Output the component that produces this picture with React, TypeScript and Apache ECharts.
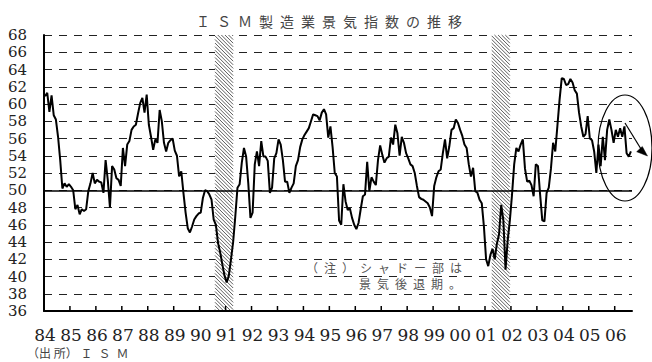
import React, { useEffect, useRef } from 'react';
import * as echarts from 'echarts';

const startYear = 1984;

// ISM manufacturing index, monthly, Jan 1984 - Aug 2006
const ismValues: number[] = [
  // 1984
  60.9, 61.3, 59.1, 61.0, 58.7, 58.2, 56.2, 53.5, 50.2, 50.8, 50.4, 50.7,
  // 1985
  50.4, 50.0, 47.8, 48.3, 47.2, 47.8, 47.6, 47.8, 49.9, 50.8, 52.0, 50.8,
  // 1986
  51.2, 51.0, 50.9, 49.7, 53.5, 51.2, 48.0, 52.8, 52.4, 51.4, 51.2, 50.5,
  // 1987
  54.9, 52.8, 55.3, 55.7, 57.0, 57.4, 57.6, 58.9, 60.1, 60.7, 59.0, 61.1,
  // 1988
  57.6, 56.2, 54.7, 55.9, 55.5, 59.3, 58.0, 55.5, 54.5, 55.5, 55.8, 56.0,
  // 1989
  54.6, 54.0, 51.6, 52.2, 49.7, 47.4, 45.6, 45.1, 45.8, 46.6, 47.0, 47.3,
  // 1990
  47.4, 49.1, 50.0, 49.9, 49.5, 48.9, 46.6, 46.0, 43.9, 42.8, 41.4, 40.1,
  // 1991
  39.3, 40.1, 42.0, 44.0, 47.0, 50.3, 50.7, 53.2, 54.9, 53.9, 50.8, 46.8,
  // 1992
  47.4, 53.0, 54.5, 52.8, 55.7, 53.9, 53.9, 53.4, 49.7, 50.3, 53.7, 54.3,
  // 1993
  55.9, 55.3, 53.5, 51.0, 51.0, 49.7, 50.3, 50.8, 52.8, 53.5, 55.0, 55.9,
  // 1994
  56.4, 56.8, 57.2, 58.0, 58.8, 58.7, 58.6, 58.1, 59.0, 59.4, 58.8, 56.1,
  // 1995
  57.4, 55.0, 52.0, 51.6, 46.5, 46.0, 50.7, 48.7, 47.7, 47.9, 46.8, 46.0,
  // 1996
  45.5, 46.2, 47.8, 49.3, 49.5, 53.3, 49.9, 51.5, 51.0, 50.6, 53.5, 55.2,
  // 1997
  54.1, 53.2, 53.7, 53.9, 56.1, 55.3, 57.6, 56.6, 54.0, 56.2, 55.5, 54.3,
  // 1998
  53.7, 53.0, 52.8, 52.0, 50.5, 49.2, 49.0, 48.9, 48.7, 48.5, 48.0, 47.0,
  // 1999
  50.5, 51.5, 52.2, 52.4, 54.3, 55.9, 53.7, 55.1, 57.0, 57.2, 58.2, 57.8,
  // 2000
  57.0, 56.3, 55.3, 54.9, 53.0, 51.6, 52.6, 49.9, 49.7, 48.9, 48.5, 45.8,
  // 2001
  42.0, 41.2, 42.5, 43.2, 42.0, 43.8, 44.9, 48.3, 46.5, 40.8, 44.2, 46.5,
  // 2002
  49.5, 53.0, 54.9, 54.5, 55.3, 55.9, 52.5, 51.0, 51.1, 50.6, 49.3, 53.0,
  // 2003
  52.8, 49.5, 46.5, 46.4, 49.7, 50.3, 52.5, 55.5, 54.5, 57.5, 60.5, 63.0,
  // 2004
  62.9, 62.2, 62.3, 62.9, 62.5, 61.6, 61.2, 59.0, 57.4, 56.2, 56.5, 58.6,
  // 2005
  56.0, 55.8, 54.5, 52.0, 55.3, 52.8, 56.2, 53.5, 57.0, 58.2, 57.0, 55.5,
  // 2006
  57.0, 56.2, 57.2, 56.2, 57.4, 54.3, 53.9, 54.5,
];

const yearLabels = ['84', '85', '86', '87', '88', '89', '90', '91', '92', '93', '94', '95',
  '96', '97', '98', '99', '00', '01', '02', '03', '04', '05', '06'];

// recession shading, in month positions from Jan 1984
const recessionStart = [79.1, 207.1];
const recessionEnd = [87.5, 215.5];

const yMin = 36;
const yMax = 68;
const baseLine = 50;

const categories: string[] = ismValues.map((_, i) =>
  `${startYear + Math.floor(i / 12)}-${String((i % 12) + 1).padStart(2, '0')}`);

const JP = '"Noto Sans CJK JP", "Noto Sans", sans-serif';
const SERIF = '"DejaVu Serif", "Liberation Serif", serif';

export default function App() {
  const ref = useRef<HTMLDivElement>(null);
  useEffect(() => {
    if (!ref.current) return;
    const chart = echarts.init(ref.current, undefined, { renderer: 'svg' });
    const bandData = recessionStart.map((s, i) => [0, yMax, s, recessionEnd[i]]);
    const tickData = yearLabels.map((_, i) => [i * 12, yMin]);
    const option: any = {
      animation: false,
      backgroundColor: '#ffffff',
      grid: { left: 44, right: 20, top: 35, bottom: 51 },
      xAxis: {
        type: 'category',
        data: categories,
        boundaryGap: true,
        z: 5,
        axisLine: { show: true, lineStyle: { color: '#000', width: 2 } },
        axisTick: { show: false },
        axisLabel: {
          interval: (i: number) => i % 12 === 0,
          formatter: (_v: string, i: number) => (i % 12 === 0 ? yearLabels[i / 12] : ''),
          fontFamily: SERIF,
          fontSize: 17,
          color: '#222',
          margin: 15,
        },
        splitLine: { show: false },
      },
      yAxis: {
        type: 'value',
        min: yMin,
        max: yMax,
        interval: 2,
        z: 0,
        axisLine: { show: true, lineStyle: { color: '#000', width: 2 } },
        axisTick: { show: false },
        axisLabel: { fontFamily: SERIF, fontSize: 15, color: '#222', margin: 17 },
        splitLine: { show: true, lineStyle: { color: '#222', width: 1, type: [8, 7] } },
      },
      series: [
        {
          name: 'base',
          type: 'line',
          data: [],
          z: 1,
          silent: true,
          markLine: {
            silent: true,
            symbol: 'none',
            label: { show: false },
            lineStyle: { color: '#000', type: 'solid', width: 1.5 },
            data: [{ yAxis: baseLine }],
          },
        },
        {
          name: 'recession',
          type: 'custom',
          z: 2,
          silent: true,
          encode: { x: 0, y: 1 },
          data: bandData,
          renderItem: (_params: any, api: any) => {
            const s = api.value(2);
            const e = api.value(3);
            const base = api.coord([0, yMax]);
            const bottom = api.coord([0, yMin]);
            const w = api.size([1, 0])[0];
            const left0 = base[0] - w / 2;
            const x1 = left0 + s * w;
            const x2 = left0 + e * w;
            const yTop = base[1];
            const yBot = bottom[1];
            const W = x2 - x1;
            const H = yBot - yTop;
            const children: any[] = [
              { type: 'rect', shape: { x: x1, y: yTop, width: W, height: H }, style: { fill: '#fff' } },
            ];
            const step = 3.6;
            for (let c = -W + 1; c < H; c += step) {
              const a = Math.max(0, -c);
              const b = Math.min(W, H - c);
              if (b <= a) continue;
              children.push({
                type: 'line',
                shape: { x1: x1 + a, y1: yTop + a + c, x2: x1 + b, y2: yTop + b + c },
                style: { stroke: '#333', lineWidth: 0.8 },
              });
            }
            return { type: 'group', children };
          },
        },
        {
          name: 'ISM',
          type: 'line',
          z: 3,
          data: ismValues,
          symbol: 'none',
          lineStyle: { color: '#000', width: 2 },
        },
        {
          name: 'ticks',
          type: 'custom',
          z: 6,
          silent: true,
          encode: { x: 0, y: 1 },
          data: tickData,
          renderItem: (_params: any, api: any) => {
            const p = api.coord([api.value(0), api.value(1)]);
            const w = api.size([1, 0])[0];
            const x = p[0] - w / 2;
            return {
              type: 'line',
              shape: { x1: x, y1: p[1], x2: x, y2: p[1] - 5 },
              style: { stroke: '#000', lineWidth: 1.5 },
            };
          },
        },
      ],
      graphic: [
        {
          type: 'text', x: 196, y: 21, z: 100,
          style: {
            text: 'Ｉ\u2002Ｓ\u2002Ｍ\u2002製\u2002造\u2002業\u2002景\u2002気\u2002指\u2002数\u2002の\u2002推\u2002移',
            font: `14px ${JP}`, fill: '#444', verticalAlign: 'middle',
          },
        },
        {
          type: 'text', x: 306, y: 267, z: 100,
          style: {
            text: '（\u2002注\u2002）\u2002シ\u2002ャ\u2002ド\u2002ー\u2002部\u2002は',
            font: `12px ${JP}`, fill: '#555', verticalAlign: 'middle',
          },
        },
        {
          type: 'text', x: 359, y: 283, z: 100,
          style: {
            text: '景\u2002気\u2002後\u2002退\u2002期\u2002。',
            font: `12px ${JP}`, fill: '#555', verticalAlign: 'middle',
          },
        },
        {
          type: 'text', x: 27, y: 352, z: 100,
          style: {
            text: '（出 所） Ｉ\u2002Ｓ\u2002Ｍ',
            font: `12px ${JP}`, fill: '#444', verticalAlign: 'middle',
          },
        },
        {
          type: 'ellipse', z: 100,
          shape: { cx: 625, cy: 148, rx: 27, ry: 53 },
          style: { fill: 'none', stroke: '#000', lineWidth: 1.2 },
        },
        {
          type: 'line', z: 100,
          shape: { x1: 625, y1: 123, x2: 641, y2: 149 },
          style: { stroke: '#000', lineWidth: 1.2 },
        },
        {
          type: 'polygon', z: 100,
          shape: { points: [[647.5, 156], [636.7, 151.7], [642.3, 146.5]] },
          style: { fill: '#000', stroke: '#000', lineWidth: 0.5 },
        },
      ],
    };
    chart.setOption(option);
    return () => chart.dispose();
  }, []);
  return (
    <div
      ref={ref}
      style={{ position: 'fixed', left: 0, top: 0, width: 652, height: 362, background: '#fff' }}
    />
  );
}
